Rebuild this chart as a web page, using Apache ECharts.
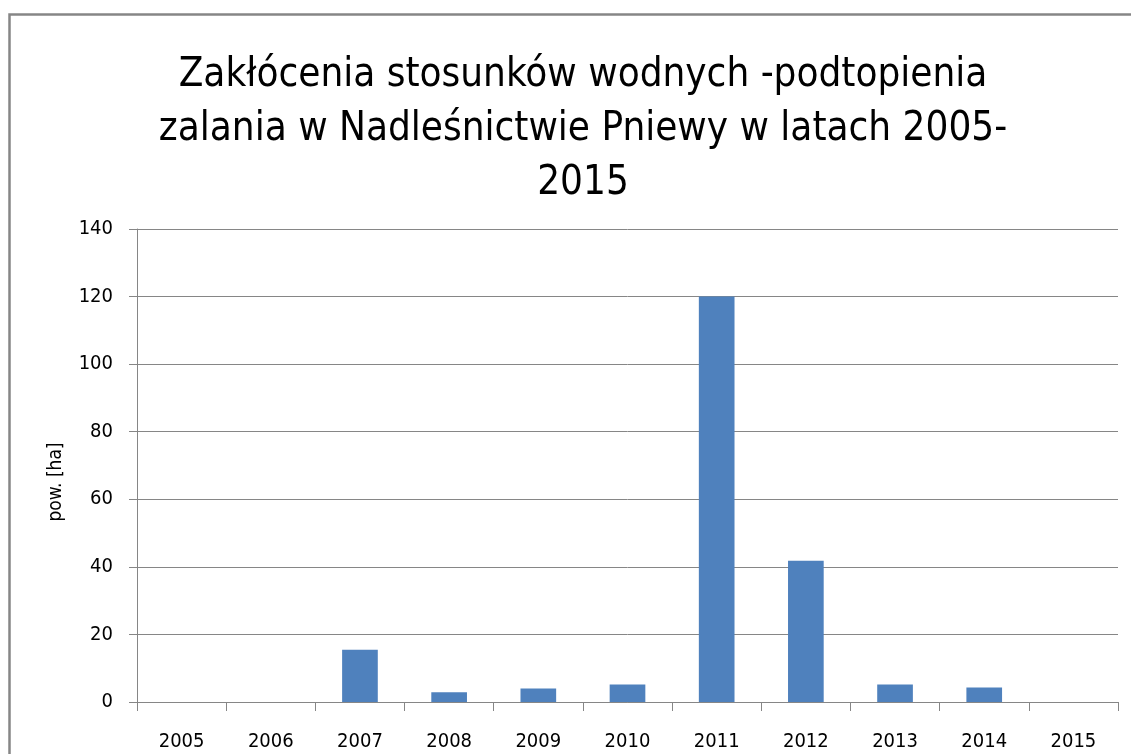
<!DOCTYPE html>
<html><head><meta charset="utf-8">
<script src="https://cdn.jsdelivr.net/npm/echarts@6/dist/echarts.min.js"></script>
<style>html,body{margin:0;padding:0;background:#fff}#c{width:1131px;height:754px}</style>
</head><body><div id="c"></div>
<script>
const titleText = 'Zakłócenia stosunków wodnych -podtopienia\nzalania w Nadleśnictwie Pniewy w latach 2005-\n2015';
const yAxisName = 'pow. [ha]';
const categories = ['2005','2006','2007','2008','2009','2010','2011','2012','2013','2014','2015'];
const values = [0, 0, 15.5, 2.9, 4.0, 5.2, 120, 41.8, 5.2, 4.3, 0];
const yTicks = {min: 0, max: 140, interval: 20};

const chart = echarts.init(document.getElementById('c'), null, {renderer: 'canvas'});
const font = '"Liberation Sans Narrow", "Arial Narrow", "DejaVu Sans Condensed", sans-serif';
chart.setOption({
  animation: false,
  backgroundColor: '#fff',
  graphic: [{
    type: 'rect', left: 7, top: 12, shape: {width: 1200, height: 800},
    style: {fill: 'none', stroke: '#868686', lineWidth: 2.5}, silent: true
  }, {
    type: 'text', x: 56, y: 482, rotation: Math.PI / 2,
    style: {text: yAxisName, fontFamily: font, fontSize: 19, fill: '#000',
      align: 'center', verticalAlign: 'middle'}, silent: true
  }],
  title: {
    text: titleText, left: 578, textAlign: 'center', top: 44,
    textStyle: {fontFamily: font, fontSize: 40, fontWeight: 'normal', color: '#000', lineHeight: 54}
  },
  grid: {left: 137, right: 13, top: 229, bottom: 52, containLabel: false},
  xAxis: {
    type: 'category', data: categories, boundaryGap: true,
    axisLine: {lineStyle: {color: '#868686', width: 1}},
    axisTick: {show: true, length: 9, inside: false, lineStyle: {color: '#868686'}},
    axisLabel: {fontFamily: font, fontSize: 20, color: '#000', margin: 30},
    splitLine: {show: false}
  },
  yAxis: {
    type: 'value', min: yTicks.min, max: yTicks.max, interval: yTicks.interval,
    axisLine: {show: true, lineStyle: {color: '#868686', width: 1}},
    axisTick: {show: true, length: 8, lineStyle: {color: '#868686'}},
    axisLabel: {fontFamily: font, fontSize: 20, color: '#000', margin: 24},
    splitLine: {show: true, lineStyle: {color: '#868686', width: 1}}
  },
  series: [{
    type: 'bar', data: values, barWidth: '40%',
    itemStyle: {color: '#4f81bd'}
  }]
});
</script></body></html>
